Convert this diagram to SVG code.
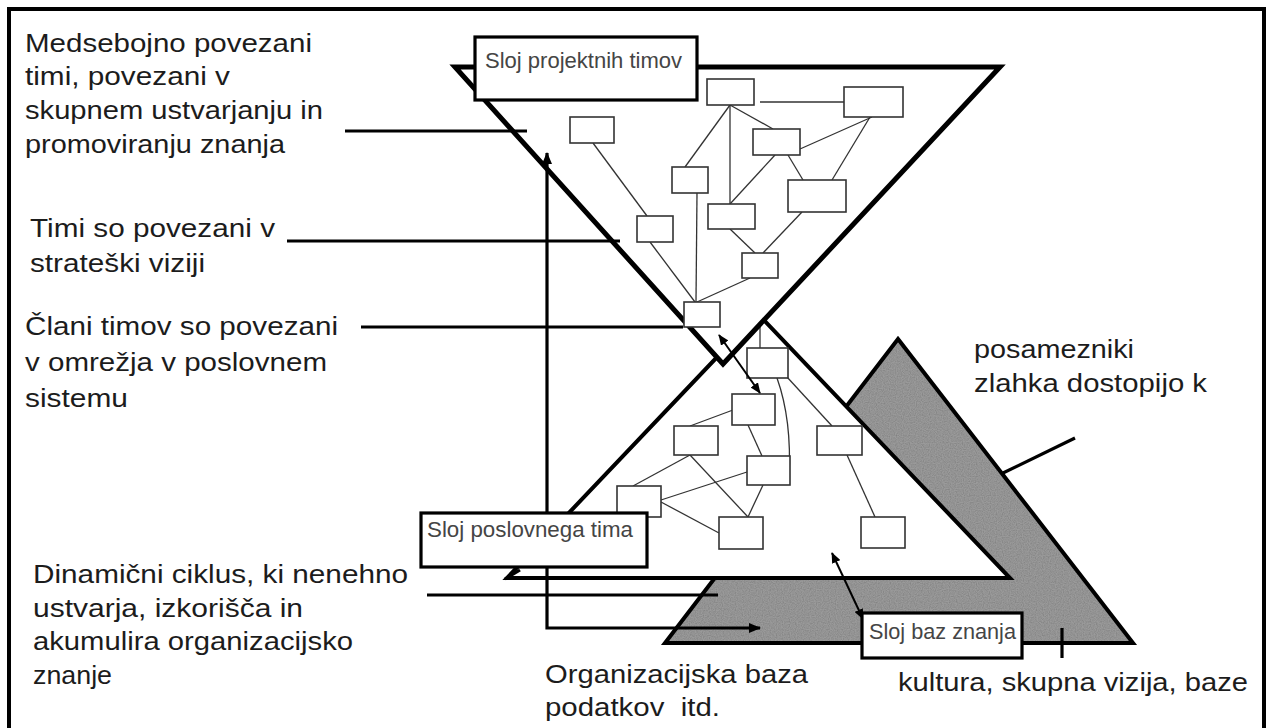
<svg xmlns="http://www.w3.org/2000/svg" width="1267" height="728" viewBox="0 0 1267 728">
<defs>
<style>
.t{font-family:"Liberation Sans",Arial,sans-serif;font-size:26px;fill:#1c1c1c}
.lbl{font-family:"Liberation Sans",Arial,sans-serif;font-size:22px;fill:#454545}
.bx{fill:#fff;stroke:#333;stroke-width:1.6}
.ln{stroke:#333;stroke-width:1.3;fill:none}
.lb{fill:#fff;stroke:#000;stroke-width:3.2}
.lead{stroke:#000;stroke-width:3.2;fill:none}
.arr{stroke:#000;stroke-width:2;fill:none}
</style>
<filter id="grain" x="0" y="0" width="1" height="1">
<feTurbulence type="fractalNoise" baseFrequency="0.85" numOctaves="1" seed="4" result="n"/>
<feColorMatrix in="n" type="matrix" values="0 0 0 0 0.2  0 0 0 0 0.2  0 0 0 0 0.2  1.6 0 0 0 -0.55" result="dots"/>
<feComposite in="dots" in2="SourceGraphic" operator="in" result="d2"/>
<feMerge><feMergeNode in="SourceGraphic"/><feMergeNode in="d2"/></feMerge>
</filter>
<marker id="ah" viewBox="0 0 12 10" refX="11" refY="5" markerWidth="12" markerHeight="10" orient="auto-start-reverse" markerUnits="userSpaceOnUse"><path d="M0,0 L12,5 L0,10 z" fill="#000"/></marker>
<marker id="ahs" viewBox="0 0 12 10" refX="11" refY="5" markerWidth="11" markerHeight="9" orient="auto-start-reverse" markerUnits="userSpaceOnUse"><path d="M0,0 L12,5 L0,10 z" fill="#000"/></marker>
</defs>
<rect width="1267" height="728" fill="#fff"/>
<path id="frame" d="M9,728 V9 H1264 V728" fill="none" stroke="#000" stroke-width="4"/>

<g id="knowledge-base-layer">
<polygon points="898,339 1133,643 665,643" fill="#9a9a9a" filter="url(#grain)"/>
<polygon points="898,339 1133,643 665,643" fill="none" stroke="#000" stroke-width="4"/>
</g>

<g id="business-team-layer">
<polygon points="758,314 1010,578 507,578" fill="#fff" stroke="#000" stroke-width="4"/>
<g id="business-links">
<line class="ln" x1="760" y1="322" x2="760" y2="348"/>
<line class="ln" x1="787" y1="377" x2="832" y2="426"/>
<path class="ln" d="M777,378 Q792,420 789,477"/>
<line class="ln" x1="733" y1="410" x2="690" y2="426"/>
<line class="ln" x1="748" y1="425" x2="762" y2="456"/>
<line class="ln" x1="690" y1="455" x2="633" y2="486"/>
<line class="ln" x1="690" y1="455" x2="748" y2="517"/>
<line class="ln" x1="747" y1="472" x2="661" y2="500"/>
<line class="ln" x1="763" y1="485" x2="748" y2="517"/>
<line class="ln" x1="661" y1="502" x2="719" y2="533"/>
<line class="ln" x1="847" y1="455" x2="875" y2="517"/>
</g>
<g id="L1"><rect class="bx" x="747" y="348" width="41" height="30"/></g>
<g id="L2"><rect class="bx" x="732" y="394" width="43" height="31"/></g>
<g id="L3"><rect class="bx" x="674" y="426" width="44" height="29"/></g>
<g id="L4"><rect class="bx" x="747" y="456" width="43" height="29"/></g>
<g id="L5"><rect class="bx" x="617" y="486" width="44" height="31"/></g>
<g id="L6"><rect class="bx" x="719" y="517" width="44" height="32"/></g>
<g id="L7"><rect class="bx" x="817" y="426" width="45" height="29"/></g>
<g id="L8"><rect class="bx" x="861" y="517" width="44" height="31"/></g>
</g>

<g id="project-team-layer">
<polygon points="455,67 1000,67 723,364" fill="#fff" stroke="#000" stroke-width="5"/>
<g id="project-links">
<line class="ln" x1="730" y1="105" x2="685" y2="167"/>
<line class="ln" x1="730" y1="105" x2="730" y2="204"/>
<line class="ln" x1="730" y1="105" x2="773" y2="129"/>
<line class="ln" x1="760" y1="102" x2="844" y2="102"/>
<line class="ln" x1="872" y1="117" x2="800" y2="149"/>
<line class="ln" x1="870" y1="117" x2="832" y2="180"/>
<line class="ln" x1="775" y1="155" x2="730" y2="204"/>
<line class="ln" x1="788" y1="155" x2="803" y2="180"/>
<line class="ln" x1="802" y1="212" x2="763" y2="253"/>
<line class="ln" x1="730" y1="229" x2="755" y2="253"/>
<line class="ln" x1="593" y1="143" x2="647" y2="216"/>
<line class="ln" x1="650" y1="242" x2="695" y2="302"/>
<line class="ln" x1="697" y1="193" x2="696" y2="302"/>
<line class="ln" x1="750" y1="278" x2="697" y2="302"/>
</g>
<g id="T1"><rect class="bx" x="570" y="117" width="44" height="26"/></g>
<g id="T2"><rect class="bx" x="707" y="79" width="47" height="26"/></g>
<g id="T3"><rect class="bx" x="844" y="87" width="59" height="30"/></g>
<g id="T4"><rect class="bx" x="753" y="129" width="47" height="26"/></g>
<g id="T5"><rect class="bx" x="672" y="167" width="36" height="26"/></g>
<g id="T6"><rect class="bx" x="788" y="180" width="58" height="32"/></g>
<g id="T7"><rect class="bx" x="637" y="216" width="36" height="26"/></g>
<g id="T8"><rect class="bx" x="708" y="204" width="47" height="25"/></g>
<g id="T9"><rect class="bx" x="742" y="253" width="36" height="25"/></g>
<g id="T10"><rect class="bx" x="684" y="302" width="36" height="25"/></g>
</g>

<g id="connectors">
<line class="lead" x1="345" y1="131" x2="527" y2="131"/>
<line class="lead" x1="287" y1="241" x2="620" y2="241"/>
<line class="lead" x1="361" y1="327" x2="683" y2="327"/>
<line class="lead" x1="427" y1="595" x2="718" y2="595"/>
<line class="lead" x1="505" y1="579" x2="520" y2="570"/>
<line class="lead" x1="1003" y1="473" x2="1075" y2="438"/>
<line class="lead" x1="1062" y1="628" x2="1062" y2="658"/>
<path class="lead" d="M547,153 V628 H760" marker-start="url(#ah)" marker-end="url(#ah)"/>
<line class="arr" x1="719" y1="335" x2="760" y2="393" marker-start="url(#ahs)" marker-end="url(#ahs)"/>
<line class="arr" x1="832" y1="553" x2="863" y2="619" marker-start="url(#ahs)" marker-end="url(#ahs)"/>
</g>

<g id="label-project">
<rect class="lb" x="475" y="37" width="222" height="63"/>
<text class="lbl" x="485" y="68" textLength="197" lengthAdjust="spacingAndGlyphs">Sloj projektnih timov</text>
</g>
<g id="label-business">
<rect class="lb" x="421" y="513" width="226" height="54"/>
<text class="lbl" x="427" y="537" textLength="206" lengthAdjust="spacingAndGlyphs">Sloj poslovnega tima</text>
</g>
<g id="label-knowledge">
<rect class="lb" x="862" y="613" width="160" height="45"/>
<text class="lbl" x="869" y="639" textLength="147" lengthAdjust="spacingAndGlyphs">Sloj baz znanja</text>
</g>

<g id="text-interconnected">
<text class="t" x="25" y="52" textLength="287" lengthAdjust="spacingAndGlyphs">Medsebojno povezani</text>
<text class="t" x="25" y="85" textLength="205" lengthAdjust="spacingAndGlyphs">timi, povezani v</text>
<text class="t" x="25" y="119" textLength="298" lengthAdjust="spacingAndGlyphs">skupnem ustvarjanju in</text>
<text class="t" x="25" y="153" textLength="260" lengthAdjust="spacingAndGlyphs">promoviranju znanja</text>
</g>
<g id="text-strategic">
<text class="t" x="30" y="237" textLength="245" lengthAdjust="spacingAndGlyphs">Timi so povezani v</text>
<text class="t" x="30" y="272" textLength="175" lengthAdjust="spacingAndGlyphs">strateški viziji</text>
</g>
<g id="text-members">
<text class="t" x="25" y="335" textLength="313" lengthAdjust="spacingAndGlyphs">Člani timov so povezani</text>
<text class="t" x="25" y="371" textLength="302" lengthAdjust="spacingAndGlyphs">v omrežja v poslovnem</text>
<text class="t" x="25" y="407" textLength="103" lengthAdjust="spacingAndGlyphs">sistemu</text>
</g>
<g id="text-cycle">
<text class="t" x="33" y="583" textLength="375" lengthAdjust="spacingAndGlyphs">Dinamični ciklus, ki nenehno</text>
<text class="t" x="33" y="617" textLength="270" lengthAdjust="spacingAndGlyphs">ustvarja, izkorišča in</text>
<text class="t" x="33" y="650" textLength="320" lengthAdjust="spacingAndGlyphs">akumulira organizacijsko</text>
<text class="t" x="33" y="684" textLength="79" lengthAdjust="spacingAndGlyphs">znanje</text>
</g>
<g id="text-database">
<text class="t" x="545" y="683" textLength="263" lengthAdjust="spacingAndGlyphs">Organizacijska baza</text>
<text class="t" x="545" y="716" textLength="175" lengthAdjust="spacingAndGlyphs" xml:space="preserve">podatkov  itd.</text>
</g>
<g id="text-individuals">
<text class="t" x="974" y="358" textLength="160" lengthAdjust="spacingAndGlyphs">posamezniki</text>
<text class="t" x="974" y="392" textLength="233" lengthAdjust="spacingAndGlyphs">zlahka dostopijo k</text>
</g>
<g id="text-culture">
<text class="t" x="898" y="691" textLength="350" lengthAdjust="spacingAndGlyphs">kultura, skupna vizija, baze</text>
</g>
</svg>
